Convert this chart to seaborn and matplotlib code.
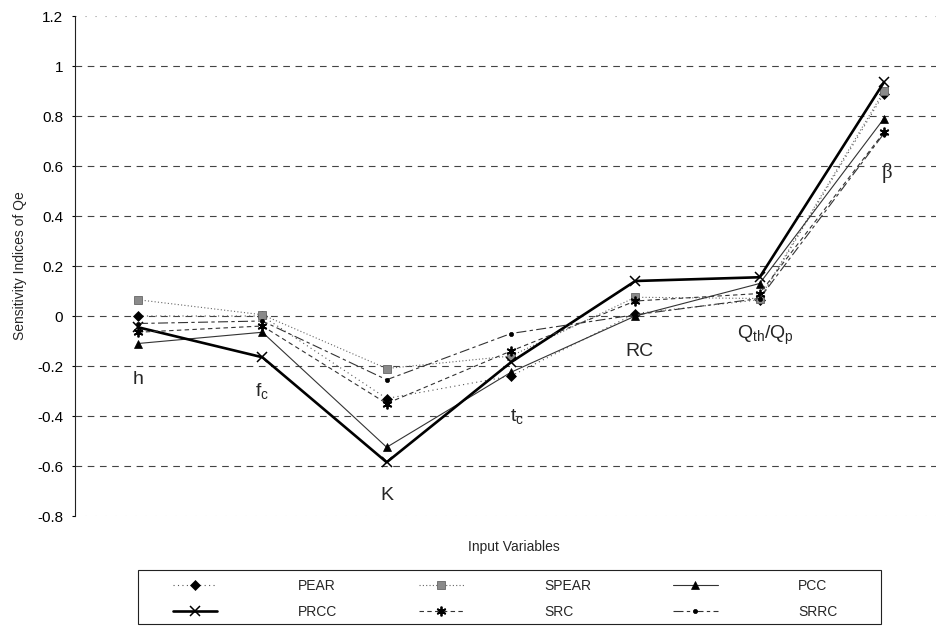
import matplotlib
matplotlib.use("Agg")
import matplotlib.pyplot as plt
from matplotlib.patches import Rectangle
import numpy as np
import pandas as pd
import seaborn as sns

# ---- data -------------------------------------------------------------
categories = ["h", "fc", "K", "tc", "RC", "Qth/Qp", "beta"]
category_text = ["h", r"f$_\mathregular{c}$", "K", r"t$_\mathregular{c}$", "RC",
                 r"Q$_\mathregular{th}$/Q$_\mathregular{p}$", "β"]

pear = [0.00, 0.00, -0.33, -0.24, 0.01, 0.065, 0.89]
spear = [0.065, 0.005, -0.21, -0.16, 0.075, 0.07, 0.90]
pcc = [-0.11, -0.065, -0.525, -0.225, 0.00, 0.13, 0.79]
prcc = [-0.045, -0.165, -0.585, -0.185, 0.14, 0.155, 0.935]
src = [-0.065, -0.04, -0.35, -0.14, 0.06, 0.09, 0.735]
srrc = [-0.03, -0.02, -0.255, -0.07, 0.005, 0.07, 0.73]

series_names = ["PEAR", "SPEAR", "PCC", "PRCC", "SRC", "SRRC"]
series_values = [pear, spear, pcc, prcc, src, srrc]

y_ticks = [-0.8, -0.6, -0.4, -0.2, 0.0, 0.2, 0.4, 0.6, 0.8, 1.0, 1.2]
y_tick_labels = ["-0.8", "-0.6", "-0.4", "-0.2", "0", "0.2", "0.4", "0.6", "0.8", "1", "1.2"]

# long-form table for seaborn
pos = np.arange(len(categories))
df = pd.DataFrame({
    "series": np.repeat(series_names, len(categories)),
    "pos": np.tile(pos, len(series_names)),
    "value": np.concatenate(series_values),
})

# ---- styling ----------------------------------------------------------
sns.set_style("white")
plt.rcParams["font.family"] = ["Liberation Sans", "DejaVu Sans"]
plt.rcParams["mathtext.fontset"] = "custom"
plt.rcParams["mathtext.rm"] = "Liberation Sans"
plt.rcParams["mathtext.it"] = "Liberation Sans:italic"
plt.rcParams["mathtext.bf"] = "Liberation Sans:bold"

styles = {
    "PEAR":  dict(color="#555555", lw=0.8, ls=(0, (1, 3)), marker="D", ms=5,
                  mfc="black", mec="black", mew=0.5),
    "SPEAR": dict(color="#666666", lw=0.8, ls=(0, (1, 2)), marker="s", ms=5.5,
                  mfc="#8a8a8a", mec="#666666", mew=0.6),
    "PCC":   dict(color="#333333", lw=0.8, ls="-", marker="^", ms=6,
                  mfc="black", mec="black", mew=0.5),
    "PRCC":  dict(color="black", lw=1.9, ls="-", marker="x", ms=7,
                  mfc="black", mec="black", mew=1.1),
    "SRC":   dict(color="#333333", lw=0.8, ls=(0, (4, 3)), marker=(6, 2, 0), ms=7,
                  mfc="black", mec="black", mew=1.3),
    "SRRC":  dict(color="#333333", lw=0.8, ls=(0, (9, 3, 3, 3)), marker="o", ms=3,
                  mfc="black", mec="black", mew=0.5),
}

fig = plt.figure(figsize=(9.36, 6.26), dpi=100)
ax = fig.add_axes([75 / 936, 1 - 516 / 626, (936 - 75) / 936, 500 / 626])

handles = {}
for name in series_names:
    st = styles[name]
    sub = df[df["series"] == name]
    sns.lineplot(data=sub, x="pos", y="value", ax=ax, sort=False, legend=False,
                 color=st["color"], linewidth=st["lw"], linestyle=st["ls"],
                 marker=st["marker"], markersize=st["ms"],
                 markerfacecolor=st["mfc"], markeredgecolor=st["mec"],
                 markeredgewidth=st["mew"], zorder=3)
    handles[name] = ax.lines[-1]

# category labels placed beside the points
label_x_offset = [0.0, 0.0, 0.0, 0.05, 0.03, 0.05, 0.02]
label_y = [-0.256, -0.30, -0.716, -0.40, -0.144, -0.076, 0.572]
for i, txt in enumerate(category_text):
    kw = dict(fontsize=14, ha="center", va="center")
    if txt == "β":
        kw.update(family=["Liberation Serif", "DejaVu Serif"], fontsize=15)
    ax.text(pos[i] + label_x_offset[i], label_y[i], txt, **kw)

# axes
ax.set_xlim(-0.507, (936 - 138) / 124.33)
ax.set_ylim(-0.8, 1.2)
ax.set_xticks([])
ax.set_yticks(y_ticks)
ax.set_yticklabels(y_tick_labels)
ax.tick_params(axis="y", direction="out", length=2.5, width=0.8, pad=6,
               labelsize=11, left=True, colors="black")
for side in ["top", "right", "bottom"]:
    ax.spines[side].set_visible(False)
ax.spines["left"].set_color("#222222")
ax.spines["left"].set_linewidth(0.8)

ax.yaxis.grid(True, color="#444444", linewidth=0.8, linestyle=(0, (6, 5)))
grid_lines = ax.yaxis.get_gridlines()
for gl in (grid_lines[0], grid_lines[-1]):
    gl.set_color("#999999")
    gl.set_linestyle((0, (1, 8)))
ax.set_axisbelow(True)

ax.set_ylabel("Sensitivity Indices of Qe", fontsize=10)
ax.yaxis.set_label_coords(-0.056, 0.5)
ax.set_xlabel("Input Variables", fontsize=10)
ax.xaxis.set_label_coords(0.51, -0.048)

# legend: three columns, two rows
order = ["PEAR", "PRCC", "SPEAR", "SRC", "PCC", "SRRC"]
fig.legend([handles[n] for n in order], order, loc="center left",
           bbox_to_anchor=(173 / 936, 1 - 599 / 626), ncol=3, frameon=False,
           borderpad=0, borderaxespad=0, handlelength=3.2, handletextpad=5.8,
           columnspacing=5.9, labelspacing=0.85, fontsize=10, numpoints=1)
fig.add_artist(Rectangle((138 / 936, 1 - 624 / 626), 743 / 936, 54 / 626,
                         transform=fig.transFigure, fill=False,
                         edgecolor="#222222", linewidth=0.8))

fig.savefig("out.png", dpi=100)
